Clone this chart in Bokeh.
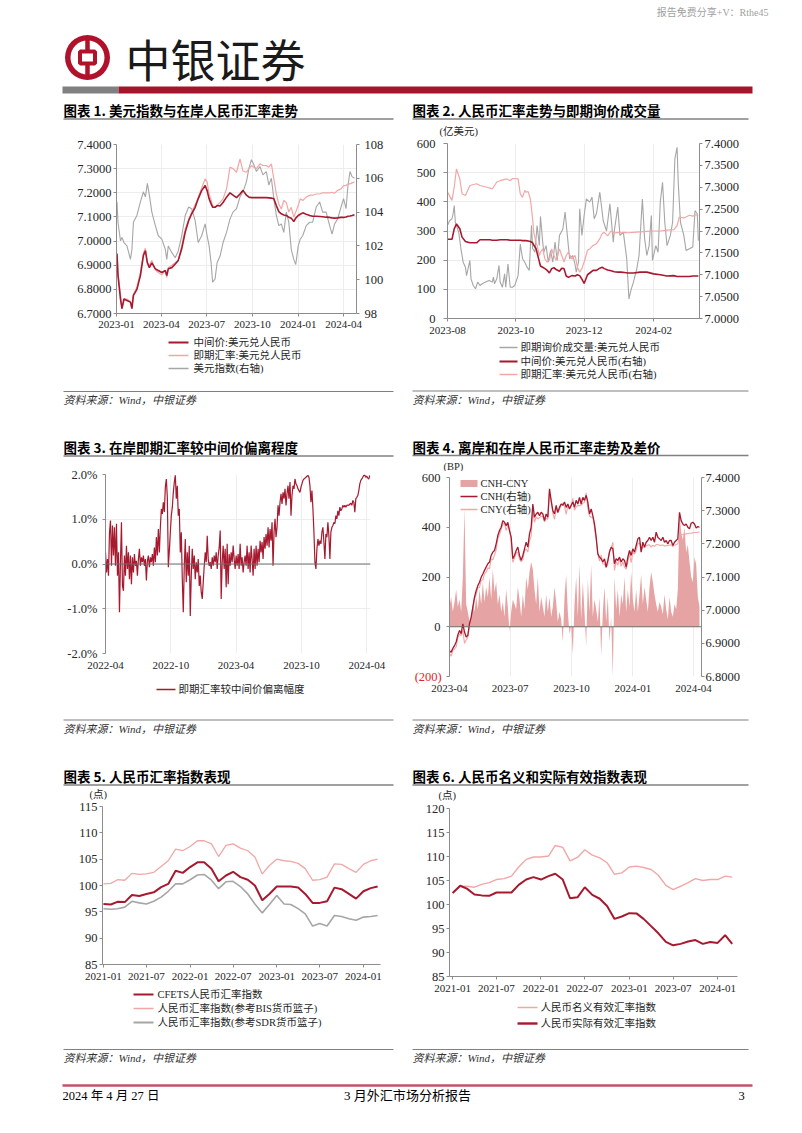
import numpy as np
import pandas as pd
from bokeh.plotting import figure
from bokeh.layouts import column, row
from bokeh.models import (Range1d, LinearAxis, FixedTicker, PrintfTickFormatter,
                          CustomJSTickFormatter, Span)
from bokeh.core.properties import value
from bokeh.embed import file_html
from bokeh.resources import INLINE

# ======================= DATA =======================
# Chart 1: USD index vs onshore CNY
c1_dates = [
    "2023-01-02", "2023-01-04", "2023-01-09", "2023-01-12", "2023-01-16", "2023-01-22", "2023-01-29", "2023-02-01", "2023-02-04", "2023-02-11",
    "2023-02-18", "2023-02-24", "2023-02-28", "2023-03-04", "2023-03-08", "2023-03-13", "2023-03-20", "2023-03-26", "2023-04-02", "2023-04-09",
    "2023-04-12", "2023-04-15", "2023-04-22", "2023-04-29", "2023-05-05", "2023-05-12", "2023-05-19", "2023-05-26", "2023-06-01", "2023-06-08",
    "2023-06-14", "2023-06-21", "2023-06-28", "2023-07-02", "2023-07-06", "2023-07-10", "2023-07-13", "2023-07-18", "2023-07-22", "2023-07-28",
    "2023-08-03", "2023-08-10", "2023-08-17", "2023-08-23", "2023-08-30", "2023-09-06", "2023-09-12", "2023-09-19", "2023-09-24", "2023-09-29",
    "2023-10-04", "2023-10-09", "2023-10-16", "2023-10-22", "2023-10-29", "2023-11-03", "2023-11-08", "2023-11-13", "2023-11-18", "2023-11-23",
    "2023-11-28", "2023-12-03", "2023-12-08", "2023-12-13", "2023-12-18", "2023-12-23", "2023-12-27", "2024-01-01", "2024-01-05", "2024-01-10",
    "2024-01-17", "2024-01-24", "2024-01-30", "2024-02-06", "2024-02-13", "2024-02-19", "2024-02-26", "2024-03-04", "2024-03-09", "2024-03-14",
    "2024-03-20", "2024-03-27", "2024-04-01", "2024-04-06", "2024-04-10", "2024-04-14", "2024-04-18", "2024-04-23"]
c1_mid = [
    6.947, 6.857, 6.760, 6.720, 6.760, 6.754, 6.747, 6.720, 6.775, 6.800,
    6.857, 6.940, 6.960, 6.910, 6.890, 6.910, 6.885, 6.878, 6.870, 6.878,
    6.857, 6.885, 6.890, 6.905, 6.920, 6.968, 7.037, 7.085, 7.113, 7.140,
    7.175, 7.209, 7.230, 7.209, 7.175, 7.154, 7.140, 7.140, 7.147, 7.145,
    7.160, 7.182, 7.200, 7.190, 7.180, 7.195, 7.210, 7.190, 7.182, 7.180,
    7.180, 7.180, 7.180, 7.180, 7.180, 7.179, 7.178, 7.175, 7.147, 7.122,
    7.113, 7.108, 7.106, 7.099, 7.095, 7.081, 7.095, 7.106, 7.111, 7.117,
    7.111, 7.106, 7.103, 7.103, 7.102, 7.101, 7.099, 7.098, 7.096, 7.095,
    7.096, 7.098, 7.098, 7.100, 7.103, 7.104, 7.106, 7.109]
c1_spot = [
    6.950, 6.870, 6.780, 6.720, 6.760, 6.760, 6.750, 6.730, 6.780, 6.810,
    6.870, 6.950, 6.970, 6.910, 6.900, 6.920, 6.880, 6.870, 6.860, 6.880,
    6.850, 6.890, 6.900, 6.910, 6.920, 6.980, 7.050, 7.090, 7.120, 7.150,
    7.180, 7.220, 7.258, 7.244, 7.195, 7.170, 7.147, 7.140, 7.147, 7.160,
    7.175, 7.216, 7.306, 7.300, 7.285, 7.340, 7.290, 7.285, 7.300, 7.313,
    7.306, 7.300, 7.320, 7.313, 7.313, 7.306, 7.320, 7.258, 7.195, 7.154,
    7.133, 7.168, 7.160, 7.120, 7.140, 7.099, 7.120, 7.147, 7.175, 7.168,
    7.182, 7.190, 7.190, 7.195, 7.195, 7.200, 7.200, 7.200, 7.202, 7.198,
    7.210, 7.216, 7.230, 7.230, 7.237, 7.237, 7.241, 7.244]
c1_dxy = [
    104.6, 103.4, 102.3, 102.5, 102.2, 102.0, 101.2, 101.8, 103.4, 103.8,
    104.6, 105.2, 104.9, 105.7, 105.0, 104.0, 103.2, 102.6, 102.4, 101.8,
    101.2, 102.0, 101.6, 101.3, 101.7, 102.6, 103.8, 104.3, 104.2, 103.5,
    102.2, 102.6, 103.3, 102.6, 102.0, 101.0, 99.85, 100.05, 101.0, 101.4,
    102.2, 102.8, 103.6, 104.0, 104.2, 104.9, 105.2, 105.8, 106.6, 107.1,
    106.8, 106.4, 106.7, 106.2, 106.4, 105.6, 106.0, 104.8, 103.8, 103.2,
    103.3, 102.8, 104.0, 103.4, 101.8, 101.2, 100.9, 102.0, 102.4, 102.6,
    103.2, 103.4, 103.4, 104.3, 104.6, 104.0, 104.0, 103.2, 102.7, 103.3,
    103.6, 104.3, 104.8, 104.2, 105.6, 106.4, 106.1, 106.0]
c1_x_ticks = ["2023-01-01", "2023-04-01", "2023-07-01", "2023-10-01", "2024-01-01", "2024-04-01"]
c1_left_ticks = [6.7, 6.8, 6.9, 7.0, 7.1, 7.2, 7.3, 7.4]
c1_right_ticks = [98, 100, 102, 104, 106, 108]
c1_labels = ["中间价:美元兑人民币", "即期汇率:美元兑人民币", "美元指数(右轴)"]

# Chart 2: CNY trend and spot turnover
c2_vol_dates = [
    "2023-08-01", "2023-08-03", "2023-08-05", "2023-08-06", "2023-08-07", "2023-08-08", "2023-08-11", "2023-08-13", "2023-08-15", "2023-08-17",
    "2023-08-18", "2023-08-21", "2023-08-22", "2023-08-24", "2023-08-26", "2023-08-28", "2023-08-30", "2023-09-01", "2023-09-04", "2023-09-07",
    "2023-09-10", "2023-09-11", "2023-09-12", "2023-09-14", "2023-09-16", "2023-09-17", "2023-09-19", "2023-09-21", "2023-09-22", "2023-09-24",
    "2023-09-26", "2023-09-28", "2023-09-30", "2023-10-03", "2023-10-05", "2023-10-07", "2023-10-09", "2023-10-11", "2023-10-13", "2023-10-15",
    "2023-10-16", "2023-10-18", "2023-10-20", "2023-10-22", "2023-10-23", "2023-10-25", "2023-10-26", "2023-10-28", "2023-10-30", "2023-11-01",
    "2023-11-03", "2023-11-05", "2023-11-07", "2023-11-09", "2023-11-12", "2023-11-14", "2023-11-16", "2023-11-18", "2023-11-21", "2023-11-23",
    "2023-11-24", "2023-11-26", "2023-11-27", "2023-11-29", "2023-12-01", "2023-12-03", "2023-12-06", "2023-12-08", "2023-12-10", "2023-12-12",
    "2023-12-15", "2023-12-18", "2023-12-21", "2023-12-24", "2023-12-27", "2023-12-28", "2023-12-31", "2024-01-02", "2024-01-05", "2024-01-08",
    "2024-01-10", "2024-01-12", "2024-01-14", "2024-01-17", "2024-01-19", "2024-01-22", "2024-01-24", "2024-01-26", "2024-01-28", "2024-01-30",
    "2024-01-31", "2024-02-03", "2024-02-05", "2024-02-07", "2024-02-09", "2024-02-11", "2024-02-13", "2024-02-16", "2024-02-18", "2024-02-20",
    "2024-02-22", "2024-02-23", "2024-02-25", "2024-02-28", "2024-03-01", "2024-03-04", "2024-03-07", "2024-03-09", "2024-03-11", "2024-03-12"]
c2_volume = [
    319, 336, 342, 359, 387, 330, 296, 239, 193, 176,
    147, 199, 136, 113, 102, 125, 113, 119, 125, 130,
    125, 142, 119, 136, 182, 125, 107, 153, 107, 187,
    107, 107, 113, 147, 255, 205, 193, 176, 165, 320,
    240, 227, 319, 250, 350, 262, 227, 250, 193, 233,
    193, 262, 199, 285, 307, 365, 285, 205, 216, 182,
    159, 193, 376, 285, 353, 410, 399, 416, 342, 360,
    433, 336, 300, 393, 262, 302, 382, 285, 296, 205,
    67, 100, 125, 170, 216, 410, 273, 216, 250, 353,
    199, 250, 227, 399, 467, 330, 250, 285, 330, 547,
    587, 467, 330, 285, 233, 239, 245, 370, 359, 267]
c2_dates = [
    "2023-08-01", "2023-08-05", "2023-08-07", "2023-08-09", "2023-08-12", "2023-08-14", "2023-08-17", "2023-08-21", "2023-08-27", "2023-08-30",
    "2023-09-05", "2023-09-08", "2023-09-10", "2023-09-14", "2023-09-17", "2023-09-23", "2023-09-26", "2023-09-28", "2023-10-03", "2023-10-05",
    "2023-10-07", "2023-10-09", "2023-10-10", "2023-10-12", "2023-10-14", "2023-10-16", "2023-10-17", "2023-10-19", "2023-10-20", "2023-10-22",
    "2023-10-23", "2023-10-25", "2023-10-27", "2023-10-29", "2023-10-31", "2023-11-02", "2023-11-04", "2023-11-06", "2023-11-09", "2023-11-11",
    "2023-11-13", "2023-11-15", "2023-11-17", "2023-11-20", "2023-11-23", "2023-11-25", "2023-11-27", "2023-11-29", "2023-12-01", "2023-12-04",
    "2023-12-06", "2023-12-09", "2023-12-12", "2023-12-15", "2023-12-17", "2023-12-19", "2023-12-22", "2023-12-25", "2023-12-28", "2023-12-31",
    "2024-01-03", "2024-01-06", "2024-01-09", "2024-01-14", "2024-01-20", "2024-01-26", "2024-02-01", "2024-02-07", "2024-02-13", "2024-02-19",
    "2024-02-22", "2024-02-24", "2024-02-28", "2024-03-01", "2024-03-04", "2024-03-07", "2024-03-10", "2024-03-12"]
c2_mid = [
    7.181, 7.181, 7.205, 7.216, 7.205, 7.186, 7.176, 7.173, 7.173, 7.180,
    7.180, 7.180, 7.179, 7.179, 7.180, 7.180, 7.179, 7.179, 7.179, 7.179,
    7.178, 7.178, 7.178, 7.177, 7.176, 7.173, 7.168, 7.160, 7.150, 7.130,
    7.120, 7.117, 7.114, 7.110, 7.104, 7.114, 7.116, 7.112, 7.108, 7.115,
    7.114, 7.097, 7.094, 7.098, 7.097, 7.100, 7.098, 7.090, 7.080, 7.100,
    7.104, 7.110, 7.110, 7.115, 7.117, 7.114, 7.111, 7.109, 7.107, 7.106,
    7.106, 7.105, 7.104, 7.104, 7.106, 7.106, 7.102, 7.100, 7.097, 7.098,
    7.096, 7.096, 7.096, 7.096, 7.096, 7.097, 7.097, 7.097]
c2_spot = [
    7.289, 7.270, 7.300, 7.342, 7.319, 7.285, 7.281, 7.304, 7.308, 7.304,
    7.300, 7.298, 7.296, 7.312, 7.315, 7.319, 7.315, 7.320, 7.319, 7.285,
    7.277, 7.293, 7.289, 7.290, 7.273, 7.228, 7.197, 7.174, 7.167, 7.144,
    7.152, 7.159, 7.136, 7.129, 7.133, 7.159, 7.144, 7.133, 7.159, 7.144,
    7.129, 7.144, 7.152, 7.136, 7.144, 7.117, 7.106, 7.114, 7.129, 7.156,
    7.159, 7.167, 7.171, 7.182, 7.194, 7.197, 7.189, 7.200, 7.195, 7.197,
    7.196, 7.197, 7.196, 7.197, 7.198, 7.199, 7.200, 7.200, 7.202, 7.203,
    7.212, 7.232, 7.230, 7.232, 7.236, 7.234, 7.237, 7.236]
c2_x_ticks = ["2023-08-01", "2023-10-01", "2023-12-01", "2024-02-01"]
c2_left_ticks = [0, 100, 200, 300, 400, 500, 600]
c2_right_ticks = [7.0, 7.05, 7.1, 7.15, 7.2, 7.25, 7.3, 7.35, 7.4]
c2_labels = ["即期询价成交量:美元兑人民币", "中间价:美元兑人民币(右轴)", "即期汇率:美元兑人民币(右轴)"]

# Chart 3: spot deviation from central parity (%), sampled evenly 2022-04-01 .. 2024-04-09
c3_dev = [
    0.26, -0.19, 0.11, -0.26, 0.71, 0.97, -0.04, 0.86, 0.19, 0.82,
    -0.04, 0.90, -0.26, 0.26, -1.08, 0.04, 0.93, -0.49, -0.60, 0.19,
    -0.26, 0.41, -0.11, 0.26, -0.34, 0.19, -0.45, 0.15, -0.19, 0.22,
    -0.04, 0.07, -0.26, 0.11, 0.34, -0.04, 0.15, 0.04, 0.19, -0.04,
    0.11, -0.37, 0.07, 0.19, -0.07, 0.15, 0.04, 0.22, -0.04, 0.37,
    0.04, 0.60, 0.19, 0.78, 0.26, 0.82, 1.23, 1.12, 1.38, 1.16,
    1.72, 1.90, 1.49, -0.07, 0.30, 0.71, 1.08, 1.27, 1.60, 1.83,
    1.98, 1.46, 1.75, 1.08, 1.23, 0.26, 0.71, -0.34, -1.08, -0.04,
    0.56, -0.41, 0.26, -0.26, 0.41, -1.16, -0.26, 0.34, -0.11, 0.19,
    -0.34, 0.04, -0.19, 0.11, -0.49, -0.26, -0.63, -0.78, -0.41, -0.04,
    0.26, 0.04, 0.63, 0.11, -0.04, 0.04, -0.11, 0.15, -0.04, 0.19,
    0.04, 0.26, -0.11, 0.19, 0.37, 0.75, -0.78, 0.04, 0.41, -0.11,
    0.34, -0.52, 0.45, -0.45, 0.22, -0.04, 0.26, 0.04, 0.41, 0.11,
    -0.11, 0.19, -0.04, 0.22, -0.11, 0.45, -0.04, 0.15, -0.19, 0.04,
    0.19, -0.04, 0.41, -0.11, 0.26, -0.19, 0.41, 0.11, -0.26, 0.34,
    -0.11, 0.41, -0.04, 0.34, 0.04, 0.52, 0.26, 0.49, 0.11, 0.60,
    0.34, 0.67, 0.41, 0.82, 0.37, 0.78, 0.52, 0.93, -0.04, 0.71,
    1.01, 0.60, 0.82, 1.31, 1.08, 1.38, 1.57, 1.34, 1.60, 1.46,
    1.68, 1.31, 1.57, 1.75, 1.46, 1.83, 1.08, 1.53, 1.75, 1.68,
    1.90, 1.79, 1.75, 1.68, 1.64, 1.60, 1.72, 1.79, 1.87, 1.90,
    1.92, 1.94, 1.96, 1.98, 1.94, 1.75, 1.38, 1.64, 1.23, 0.71,
    0.04, -0.11, 0.34, 0.56, 0.41, 0.52, 0.45, 0.71, 0.82, 0.49,
    0.11, 0.67, 0.60, 0.93, 0.63, 0.11, 0.71, 0.82, 0.86, 0.93,
    0.90, 1.08, 1.01, 1.19, 1.08, 1.27, 1.19, 1.23, 1.31, 1.27,
    1.31, 1.27, 1.31, 1.32, 1.31, 1.34, 1.36, 1.31, 1.42, 1.38,
    1.16, 1.46, 1.49, 1.53, 1.64, 1.79, 1.87, 1.90, 1.94, 1.98,
    1.99, 1.94, 1.96, 1.92, 1.90, 1.98]
c3_start, c3_end = "2022-04-01", "2024-04-09"
c3_x_ticks = ["2022-04-01", "2022-10-01", "2023-04-01", "2023-10-01", "2024-04-01"]
c3_y_ticks = [-2, -1, 0, 1, 2]
c3_labels = ["即期汇率较中间价偏离幅度"]

# Chart 4: offshore vs onshore CNY and spread (evenly sampled 2023-04-01 .. 2024-04-10)
c4_spread = [
    80, 120, 60, 100, 150, 80, 110, 60, 200, 475,
    90, 60, 20, 40, 90, 60, 120, 70, 150, 90,
    180, 100, 160, 120, 200, 110, 230, 140, 180, 90,
    130, 60, 100, 40, 150, 80, -20, 60, 110, 90,
    70, 160, 110, 40, 130, 70, 200, 150, 220, 260,
    230, 150, 90, 200, 60, 120, 80, 40, 130, 60,
    120, 40, 80, 160, 100, 20, 60, 30, -60, 120,
    210, 60, -30, 10, -110, 90, 200, 40, 250, 30,
    180, 60, -80, 190, 60, 250, 40, 110, 70, 20,
    120, -120, 60, 160, 20, 120, -60, 40, -200, 200,
    70, 150, 40, 130, 90, 200, 60, 150, 80, 220,
    110, 60, 150, 60, 130, 210, 90, 160, 110, 60,
    160, 220, 180, 130, 90, 60, 100, 80, 50, 130,
    70, 30, 120, 60, 40, 90, 70, 150, 460, 380,
    350, 400, 300, 330, 260, 200, 180, 280, 250, 120,
    80]
c4_cnh = [
    6.878, 6.873, 6.885, 6.893, 6.904, 6.925, 6.939, 6.929, 6.959, 6.934,
    6.919, 6.924, 6.959, 6.979, 7.009, 7.039, 7.059, 7.074, 7.084, 7.099,
    7.109, 7.120, 7.130, 7.140, 7.145, 7.165, 7.175, 7.180, 7.200, 7.225,
    7.240, 7.250, 7.270, 7.265, 7.255, 7.265, 7.240, 7.220, 7.155, 7.165,
    7.180, 7.190, 7.165, 7.150, 7.165, 7.185, 7.205, 7.190, 7.230, 7.250,
    7.320, 7.280, 7.290, 7.295, 7.285, 7.295, 7.290, 7.270, 7.290, 7.280,
    7.366, 7.331, 7.300, 7.290, 7.316, 7.295, 7.310, 7.320, 7.316, 7.326,
    7.310, 7.320, 7.305, 7.316, 7.326, 7.310, 7.331, 7.320, 7.340, 7.320,
    7.340, 7.331, 7.346, 7.326, 7.290, 7.305, 7.285, 7.260, 7.220, 7.170,
    7.160, 7.155, 7.145, 7.155, 7.130, 7.150, 7.175, 7.190, 7.185, 7.140,
    7.155, 7.150, 7.160, 7.145, 7.155, 7.150, 7.130, 7.160, 7.180, 7.165,
    7.185, 7.175, 7.195, 7.215, 7.220, 7.175, 7.205, 7.190, 7.205, 7.210,
    7.220, 7.210, 7.220, 7.205, 7.235, 7.220, 7.215, 7.210, 7.220, 7.205,
    7.210, 7.200, 7.210, 7.210, 7.195, 7.205, 7.210, 7.215, 7.295, 7.270,
    7.260, 7.255, 7.260, 7.250, 7.245, 7.262, 7.265, 7.260, 7.248, 7.252,
    7.250]
c4_cny = [
    6.870, 6.861, 6.879, 6.883, 6.889, 6.917, 6.928, 6.923, 6.939, 6.900,
    6.910, 6.918, 6.957, 6.975, 7.000, 7.033, 7.047, 7.067, 7.069, 7.090,
    7.091, 7.110, 7.114, 7.128, 7.125, 7.154, 7.152, 7.166, 7.182, 7.216,
    7.227, 7.244, 7.260, 7.261, 7.240, 7.257, 7.242, 7.214, 7.144, 7.156,
    7.173, 7.174, 7.154, 7.146, 7.152, 7.178, 7.185, 7.175, 7.208, 7.224,
    7.297, 7.265, 7.281, 7.275, 7.279, 7.283, 7.282, 7.266, 7.277, 7.274,
    7.354, 7.327, 7.292, 7.274, 7.306, 7.293, 7.304, 7.317, 7.322, 7.314,
    7.289, 7.314, 7.308, 7.315, 7.337, 7.301, 7.311, 7.316, 7.315, 7.317,
    7.322, 7.325, 7.354, 7.307, 7.284, 7.280, 7.281, 7.249, 7.213, 7.168,
    7.148, 7.167, 7.139, 7.139, 7.128, 7.138, 7.181, 7.186, 7.205, 7.120,
    7.148, 7.135, 7.156, 7.132, 7.146, 7.130, 7.124, 7.145, 7.172, 7.143,
    7.174, 7.169, 7.180, 7.200, 7.203, 7.180, 7.193, 7.188, 7.194, 7.196,
    7.197, 7.190, 7.196, 7.192, 7.198, 7.197, 7.196, 7.195, 7.197, 7.193,
    7.195, 7.194, 7.196, 7.197, 7.192, 7.196, 7.198, 7.200, 7.222, 7.226,
    7.228, 7.229, 7.230, 7.231, 7.232, 7.232, 7.233, 7.234, 7.234, 7.235,
    7.236]
c4_start, c4_end = "2023-04-01", "2024-04-10"
c4_x_ticks = ["2023-04-01", "2023-07-01", "2023-10-01", "2024-01-01", "2024-04-01"]
c4_left_ticks = [-200, 0, 200, 400, 600]
c4_right_ticks = [6.8, 6.9, 7.0, 7.1, 7.2, 7.3, 7.4]
c4_labels = ["CNH-CNY", "CNH(右轴)", "CNY(右轴)"]

# Chart 5: RMB exchange-rate indices (monthly 2021-01 .. 2024-03)
c5_start = "2021-01-01"
c5_cfets = [96.5, 96.4, 96.9, 96.85, 98.2, 98.0, 98.4, 98.7, 99.7, 100.3,
            102.8, 102.4, 103.5, 104.4, 104.4, 103.2, 100.8, 101.9, 102.6, 101.6,
            101.1, 100.0, 97.2, 98.4, 99.8, 99.8, 99.8, 99.6, 98.4, 96.7,
            96.7, 97.0, 99.6, 99.3, 98.4, 97.5, 98.9, 99.5, 99.8]
c5_bis = [100.3, 100.4, 101.1, 101.0, 102.3, 102.1, 102.2, 102.5, 103.6, 104.7,
          106.9, 106.6, 107.4, 108.5, 108.5, 107.9, 105.5, 107.6, 107.9, 107.1,
          106.6, 105.4, 102.2, 103.8, 105.0, 104.7, 104.6, 104.2, 103.2, 101.0,
          101.1, 101.6, 104.1, 104.0, 103.2, 102.5, 104.0, 104.7, 105.0]
c5_sdr = [95.6, 95.5, 95.6, 95.9, 97.0, 96.7, 96.5, 97.0, 97.8, 98.9,
          100.3, 100.3, 101.1, 102.0, 102.1, 101.0, 99.4, 100.7, 100.8, 99.8,
          98.4, 96.5, 94.8, 96.4, 98.1, 96.5, 96.4, 95.6, 94.6, 92.3,
          92.8, 92.3, 94.3, 94.1, 93.7, 93.4, 94.0, 94.1, 94.3]
c5_y_ticks = [85, 90, 95, 100, 105, 110, 115]
c56_x_ticks = ["2021-01-01", "2021-07-01", "2022-01-01", "2022-07-01", "2023-01-01", "2023-07-01", "2024-01-01"]
c5_labels = ["CFETS人民币汇率指数", "人民币汇率指数(参考BIS货币篮子)", "人民币汇率指数(参考SDR货币篮子)"]

# Chart 6: nominal and real effective exchange-rate indices (monthly 2021-01 .. 2024-03)
c6_start = "2021-01-01"
c6_neer = [102.4, 103.8, 103.8, 103.6, 104.2, 104.55, 105.2, 105.4, 105.9, 107.8,
           109.4, 109.9, 109.9, 110.1, 112.3, 111.9, 109.1, 109.8, 111.4, 110.3,
           109.7, 108.7, 106.3, 106.6, 107.8, 108.0, 107.7, 107.3, 106.1, 104.0,
           103.1, 103.8, 104.55, 105.4, 105.0, 105.2, 105.2, 105.9, 105.7]
c6_reer = [102.4, 103.9, 103.3, 102.1, 101.9, 101.8, 102.5, 102.5, 102.5, 104.1,
           105.2, 105.7, 105.2, 105.9, 106.4, 105.2, 101.3, 101.5, 103.6, 102.0,
           101.2, 99.7, 97.0, 97.5, 98.2, 98.1, 97.0, 95.5, 94.0, 92.2,
           91.5, 91.8, 92.3, 92.6, 91.8, 92.2, 92.0, 93.6, 91.8]
c6_y_ticks = [85, 90, 95, 100, 105, 110, 115, 120]
c6_labels = ["人民币名义有效汇率指数", "人民币实际有效汇率指数"]

titles = ["图表 1. 美元指数与在岸人民币汇率走势", "图表 2. 人民币汇率走势与即期询价成交量",
          "图表 3. 在岸即期汇率较中间价偏离程度", "图表 4. 离岸和在岸人民币汇率走势及差价",
          "图表 5. 人民币汇率指数表现", "图表 6. 人民币名义和实际有效指数表现"]
SOURCE = "资料来源：Wind，中银证券"

# ======================= STYLE =======================
SERIF = "Liberation Serif, Noto Sans CJK SC"
CJK = "Noto Sans CJK SC"
RED = "#A6192E"
PINK = "#F2A7A7"
GRAY = "#A6A6A6"
AXC = "#8C8C8C"
GRIDC = "#EDEDED"
TXT = "#262626"
RULE = "#808080"
YSIZE = "12.5px"
XSIZE = "11px"
LSIZE = "10.5px"

MONTH_JS = """
const d = new Date(tick);
const m = d.getUTCMonth() + 1;
return d.getUTCFullYear() + "-" + (m < 10 ? "0" + m : "" + m);
"""


def ms(s):
    return pd.Timestamp(s).value // 10**6


def style_axis(ax, standoff=3, size=YSIZE):
    ax.axis_line_color = AXC
    ax.major_tick_line_color = AXC
    ax.minor_tick_line_color = None
    ax.major_tick_in = 0
    ax.major_tick_out = 3
    ax.major_label_text_font = SERIF
    ax.major_label_text_font_size = size
    ax.major_label_text_color = TXT
    ax.major_label_standoff = standoff


def chart(w, h, bl, br, bt, bb, x0, x1, y0, y1, xticks, yticks, yfmt, xstand=5):
    p = figure(width=w, height=h, x_axis_type="datetime",
               x_range=Range1d(ms(x0), ms(x1)), y_range=Range1d(y0, y1),
               output_backend="svg", toolbar_location=None,
               min_border_left=bl, min_border_right=br,
               min_border_top=bt, min_border_bottom=bb)
    p.outline_line_color = None
    p.background_fill_color = "white"
    p.border_fill_color = "white"
    xt = FixedTicker(ticks=[ms(t) for t in xticks])
    yt = FixedTicker(ticks=yticks)
    p.xaxis.ticker = xt
    p.xgrid.ticker = xt
    p.yaxis.ticker = yt
    p.ygrid.ticker = yt
    p.xaxis.formatter = CustomJSTickFormatter(code=MONTH_JS)
    p.yaxis.formatter = PrintfTickFormatter(format=yfmt)
    for ax in p.xaxis:
        style_axis(ax, xstand, XSIZE)
    for ax in p.yaxis:
        style_axis(ax, 2, YSIZE)
    p.xgrid.grid_line_color = None
    p.ygrid.grid_line_color = None
    return p


def right_axis(p, name, lo, hi, ticks, fmt, standoff=3):
    p.extra_y_ranges = {name: Range1d(lo, hi)}
    ax = LinearAxis(y_range_name=name, ticker=FixedTicker(ticks=ticks),
                    formatter=PrintfTickFormatter(format=fmt))
    style_axis(ax, standoff, YSIZE)
    p.add_layout(ax, "right")
    return ax


# ---- text strips: x and y given in page pixels ----
def strip(x0, x1, y0, y1):
    p = figure(width=x1 - x0, height=y1 - y0, x_range=Range1d(x0, x1), y_range=Range1d(y1, y0),
               output_backend="svg", toolbar_location=None, min_border=0,
               x_axis_type=None, y_axis_type=None)
    p.outline_line_color = None
    p.background_fill_color = "white"
    p.border_fill_color = "white"
    return p


def txt(p, x, y, s, size, color="#000000", font=SERIF, style="normal", align="left"):
    p.text(x=[x], y=[y], text=[s], text_font=value(font), text_font_size=size,
           text_color=color, text_font_style=style, text_align=align, text_baseline="middle")


def hrule(p, x0, x1, y, color=RULE, width=1.2):
    p.segment(x0=[x0], y0=[y], x1=[x1], y1=[y], line_color=color, line_width=width)


def title_at(p, x0, x1, y, text):
    txt(p, x0, y, text, "13.5px", font=CJK, style="bold")
    hrule(p, x0, x1, y + 9, width=1.5)


def source_at(p, x0, x1, y):
    hrule(p, x0, x1, y)
    txt(p, x0, y + 8.5, SOURCE, "11px", color="#333333", style="italic")


def legend_rows(p, kx0, kx1, tx, ys, labels, styles):
    for y, lab, (col, lw) in zip(ys, labels, styles):
        p.segment(x0=[kx0], y0=[y], x1=[kx1], y1=[y], line_color=col, line_width=lw)
        txt(p, tx, y, lab, LSIZE, color=TXT)


def box(f):
    # wrap each block so that Bokeh does not align frames across the column
    return row(f, spacing=0)


LX0, LX1, RX0, RX1 = 63, 393, 412, 748

# ======================= CHARTS =======================
# Chart 1 (page y 124..334)
p1 = chart(400, 210, 116, 44, 20, 21, "2023-01-01", "2024-04-27", 6.7, 7.4,
           c1_x_ticks, c1_left_ticks, "%.4f", xstand=4)
right_axis(p1, "r", 98, 108, c1_right_ticks, "%d", 5)
p1.ygrid.grid_line_color = GRIDC
p1.xgrid.grid_line_color = GRIDC
d1 = pd.to_datetime(c1_dates)
p1.line(d1, c1_dxy, y_range_name="r", line_color=GRAY, line_width=1.1)
p1.line(d1, c1_spot, line_color=PINK, line_width=1.2)
p1.line(d1, c1_mid, line_color=RED, line_width=1.6)

# Chart 2 (page y 137..339)
p2 = chart(402, 202, 47, 103, 6, 21, "2023-08-01", "2024-03-13", 0, 600,
           c2_x_ticks, c2_left_ticks, "%d")
p2.yaxis[0].major_label_standoff = 8
p2.yaxis[0].major_tick_out = 4
right_axis(p2, "r", 7.0, 7.4, c2_right_ticks, "%.4f", 2)
p2.ygrid.grid_line_color = GRIDC
p2.xgrid.grid_line_color = GRIDC
p2.line(pd.to_datetime(c2_vol_dates), c2_volume, line_color=GRAY, line_width=1.1)
d2 = pd.to_datetime(c2_dates)
p2.line(d2, c2_spot, y_range_name="r", line_color=PINK, line_width=1.2)
p2.line(d2, c2_mid, y_range_name="r", line_color=RED, line_width=1.6)

# Chart 3 (page y 462..677)
p3 = chart(400, 215, 105, 30, 12, 24, "2022-04-01", "2024-04-11", -2, 2,
           c3_x_ticks, c3_y_ticks, "%.1f%%")
p3.yaxis.major_label_standoff = 5
p3.ygrid.grid_line_color = GRIDC
p3.xgrid.grid_line_color = GRIDC
p3.xaxis.axis_line_color = None
p3.xaxis.major_tick_line_color = None
p3.add_layout(Span(location=0, dimension="width", line_color="#6E6E6E", line_width=1))
d3 = pd.date_range(c3_start, c3_end, periods=len(c3_dev))
p3.line(d3, c3_dev, line_color=RED, line_width=1.2)

# Chart 4 (page y 471..700)
p4 = chart(402, 229, 49, 101, 6, 24, "2023-04-01", "2024-04-13", -200, 600,
           c4_x_ticks, c4_left_ticks, "%d")
p4.yaxis[0].major_label_standoff = 6
ax4 = p4.yaxis[0]
try:
    # the negative tick is shown in red, as an axis label sitting at the start of the axis
    ax4.major_label_overrides = {-200: ""}
    ax4.axis_label = "(200)"
    ax4.axis_label_orientation = "horizontal"
    ax4.axis_label_align = "start"
    ax4.axis_label_standoff = -23
    ax4.axis_label_text_color = "#E3242B"
    ax4.axis_label_text_font = SERIF
    ax4.axis_label_text_font_size = YSIZE
    ax4.axis_label_text_font_style = "normal"
except Exception:
    ax4.axis_label = None
    ax4.axis_label_standoff = 5
    ax4.major_label_overrides = {-200: "(200)"}
right_axis(p4, "r", 6.8, 7.4, c4_right_ticks, "%.4f", 1)
p4.xgrid.grid_line_color = GRIDC
p4.xaxis.axis_line_color = None
p4.xaxis.major_tick_line_color = None
d4 = pd.date_range(c4_start, c4_end, periods=len(c4_spread))
p4.varea(x=d4, y1=0, y2=c4_spread, fill_color="#E6A3A3", fill_alpha=1.0)
p4.add_layout(Span(location=0, dimension="width", line_color="#6E6E6E", line_width=1))
p4.line(d4, c4_cny, y_range_name="r", line_color=PINK, line_width=1.1)
p4.line(d4, c4_cnh, y_range_name="r", line_color=RED, line_width=1.3)
# key box inside the frame, in frame pixels (0..252 across, 0..199 down)
p4.extra_x_ranges = {"px": Range1d(0, 252)}
p4.extra_y_ranges = {**p4.extra_y_ranges, "py": Range1d(199, 0)}
p4.rect(x=[19.5], y=[6], width=17, height=7, fill_color="#E6A3A3", line_color=None,
        x_range_name="px", y_range_name="py")
p4.segment(x0=[11, 11], y0=[19, 32], x1=[28, 28], y1=[19, 32], line_color=[RED, PINK],
           line_width=[1.6, 1.3], x_range_name="px", y_range_name="py")
p4.text(x=[31, 31, 31], y=[6, 19, 32], text=c4_labels, text_font=value(SERIF),
        text_font_size=LSIZE, text_color=TXT, text_baseline="middle",
        x_range_name="px", y_range_name="py")

# Chart 5 (page y 800..985)
p5 = chart(400, 185, 102, 20, 6, 21, "2020-12-28", "2024-03-13", 85, 115,
           c56_x_ticks, c5_y_ticks, "%d")
d5 = pd.date_range(c5_start, periods=len(c5_cfets), freq="MS")
p5.line(d5, c5_sdr, line_color=GRAY, line_width=1.6)
p5.line(d5, c5_bis, line_color=PINK, line_width=1.3)
p5.line(d5, c5_cfets, line_color=RED, line_width=2.0)

# Chart 6 (page y 801..998)
p6 = chart(402, 197, 49, 65, 7, 22, "2020-12-19", "2024-03-23", 85, 120,
           c56_x_ticks, c6_y_ticks, "%d")
d6 = pd.date_range(c6_start, periods=len(c6_neer), freq="MS")
p6.line(d6, c6_neer, line_color=PINK, line_width=1.4)
p6.line(d6, c6_reer, line_color=RED, line_width=2.0)

# ======================= STRIPS =======================
# header (full width, page y 0..124)
s0 = strip(0, 802, 0, 124)
txt(s0, 768, 12, "报告免费分享+V：Rthe45", "10px", color="#A0A0A0", align="right")
s0.annulus(x=[87], y=[57], inner_radius=17, outer_radius=22.5, fill_color="#B0122B", line_color=None)
s0.rect(x=[87], y=[57], width=15, height=12, fill_color=None, line_color="#B0122B", line_width=4)
s0.rect(x=[87, 87], y=[44.5, 69.5], width=4.5, height=[10, 10], fill_color="#B0122B", line_color=None)
txt(s0, 125, 58, "中银证券", "45px", color="#1A1A1A", font=CJK)
s0.quad(left=[62], right=[118], top=[86], bottom=[93], fill_color="#808080", line_color=None)
s0.quad(left=[118], right=[752], top=[86], bottom=[93], fill_color="#A5142B", line_color=None)
title_at(s0, LX0, LX1, 109.5, titles[0])
title_at(s0, RX0, RX1, 109.5, titles[1])

# left column strips
sL1 = strip(0, 400, 334, 462)
legend_rows(sL1, 168, 188, 193, [342, 355, 368], c1_labels, [(RED, 2), (PINK, 1.5), (GRAY, 1.5)])
source_at(sL1, LX0, LX1, 391)
title_at(sL1, LX0, LX1, 446.5, titles[2])

sL2 = strip(0, 400, 677, 800)
legend_rows(sL2, 156, 175, 178, [689], c3_labels, [(RED, 1.6)])
source_at(sL2, LX0, LX1, 719.5)
title_at(sL2, LX0, LX1, 775.5, titles[4])
txt(sL2, 89, 794, "(点)", "10.5px", color=TXT)

sL3 = strip(0, 400, 985, 1066)
legend_rows(sL3, 133, 153, 157, [994, 1008, 1022], c5_labels, [(RED, 2.2), (PINK, 1.5), (GRAY, 1.8)])
source_at(sL3, LX0, LX1, 1049)

# right column strips
sR0 = strip(400, 802, 124, 137)
txt(sR0, 439, 131, "(亿美元)", "10.5px", color=TXT)

sR1 = strip(400, 802, 339, 471)
legend_rows(sR1, 499, 517, 520, [347, 361, 374], c2_labels, [(GRAY, 1.5), (RED, 2), (PINK, 1.5)])
source_at(sR1, RX0, RX1, 390.5)
title_at(sR1, RX0, RX1, 446, titles[3])
txt(sR1, 443, 465.5, "(BP)", "10.5px", color=TXT)

sR2 = strip(400, 802, 700, 801)
source_at(sR2, RX0, RX1, 719.5)
title_at(sR2, RX0, RX1, 775.5, titles[5])
txt(sR2, 438, 795, "(点)", "10.5px", color=TXT)

sR3 = strip(400, 802, 998, 1066)
legend_rows(sR3, 517, 537, 540, [1007, 1023], c6_labels, [(PINK, 1.6), (RED, 2.4)])
source_at(sR3, RX0, RX1, 1049)

# footer (full width, page y 1066..1133)
s9 = strip(0, 802, 1066, 1133)
hrule(s9, 62, 752, 1085, color="#C4506A", width=2.5)
txt(s9, 62, 1095, "2024 年 4 月 27 日", "12.5px")
txt(s9, 407, 1095, "3 月外汇市场分析报告", "13px", align="center")
txt(s9, 741, 1095, "3", "12.5px", align="center")

left_col = column(*[box(f) for f in (p1, sL1, p3, sL2, p5, sL3)], spacing=0)
right_col = column(*[box(f) for f in (sR0, p2, sR1, p4, sR2, p6, sR3)], spacing=0)
layout = column(box(s0), row(left_col, right_col, spacing=0), box(s9), spacing=0)

open("out.html", "w").write(file_html(layout, INLINE))
